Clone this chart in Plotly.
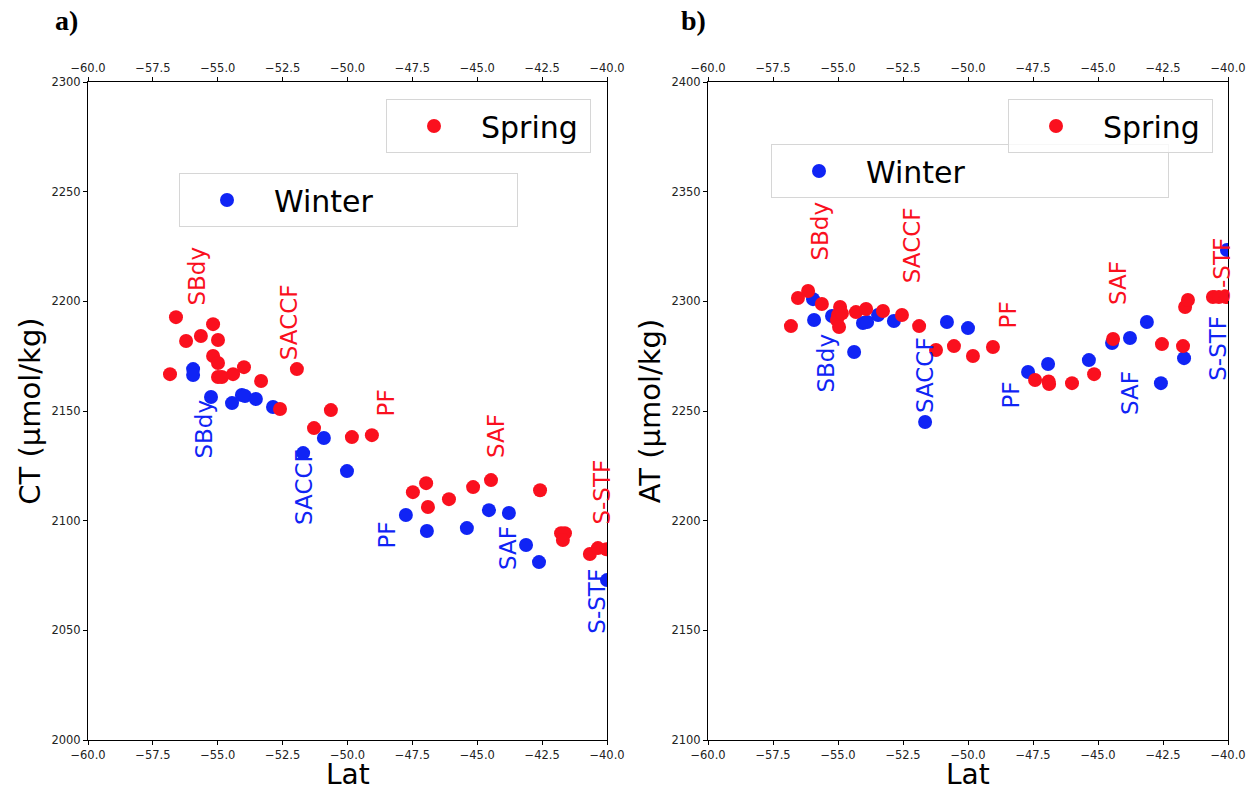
import plotly.graph_objects as go

RED = "rgb(250,16,30)"
BLUE = "rgb(16,36,245)"
FONT = "DejaVu Sans"

# ---------------- Panel a) CT ----------------
spring_ct_lat = [-56.61, -55.18, -55.65, -56.22, -54.99, -55.18, -54.99, -56.84, -54.99, -54.84,
                 -54.41, -53.99, -53.33, -51.95, -52.60, -50.64, -51.29, -49.83, -49.06,
                 -46.97, -47.48, -46.90, -46.09, -45.16, -44.47, -42.58, -41.77, -41.62, -41.70,
                 -40.66, -40.35, -40.02]
spring_ct = [2192.8, 2189.6, 2184.2, 2181.9, 2182.4, 2175.1, 2171.9, 2166.8, 2165.5, 2165.5,
             2166.8, 2170.0, 2163.7, 2169.1, 2150.9, 2150.4, 2142.2, 2138.1, 2139.0,
             2117.1, 2113.0, 2106.2, 2109.8, 2115.3, 2118.5, 2113.9, 2094.3, 2094.3, 2091.2,
             2084.8, 2087.5, 2087.0]

winter_ct_lat = [-55.95, -55.95, -55.26, -54.45, -54.07, -53.95, -53.53, -52.87, -50.91, -51.71,
                 -50.02, -47.75, -46.94, -45.40, -44.55, -43.78, -43.12, -42.62, -40.0]
winter_ct = [2169.1, 2166.4, 2156.4, 2153.6, 2157.3, 2156.8, 2155.5, 2151.8, 2137.7, 2130.8,
             2122.6, 2102.6, 2095.3, 2096.6, 2104.8, 2103.5, 2088.9, 2081.1, 2072.9]

# ---------------- Panel b) AT ----------------
spring_at_lat = [-56.81, -56.54, -56.15, -55.62, -54.92, -55.00, -55.04, -54.96, -54.85,
                 -54.31, -53.92, -53.27, -52.54, -51.88, -51.23, -50.54, -49.81, -49.04,
                 -47.42, -46.88, -46.90, -46.00, -45.15, -44.42, -42.54, -41.73, -41.65, -41.54,
                 -40.58, -40.35, -40.08]
spring_at = [2288.7, 2301.5, 2304.7, 2298.8, 2297.4, 2293.8, 2291.5, 2288.3, 2294.5,
             2295.1, 2296.5, 2295.6, 2293.8, 2288.7, 2277.8, 2279.6, 2275.1, 2279.2,
             2264.1, 2262.3, 2263.5, 2262.7, 2266.8, 2282.8, 2280.5, 2279.6, 2297.4, 2300.6,
             2302.0, 2302.0, 2302.0]

winter_at_lat = [-55.96, -55.92, -55.23, -54.04, -53.88, -53.46, -52.85, -54.38, -51.65, -50.81,
                 -50.00, -47.69, -46.92, -45.35, -44.46, -43.77, -43.12, -42.58, -41.69, -40.04]
winter_at = [2301.0, 2291.5, 2293.3, 2290.1, 2290.6, 2293.8, 2291.0, 2276.9, 2245.0, 2290.6,
             2287.8, 2267.8, 2271.4, 2273.2, 2281.0, 2283.3, 2290.6, 2262.7, 2274.1, 2323.4]

# Front labels (name, lat, value at the bottom of the rotated text)
fronts = ["SBdy", "SACCF", "PF", "SAF", "S-STF"]
ct_spring_lab_lat = [-55.80, -52.25, -48.52, -44.28, -40.23]
ct_spring_lab_val = [2197.4, 2172.3, 2146.8, 2127.6, 2097.1]
ct_winter_lab_lat = [-55.53, -51.68, -48.48, -43.81, -40.42]
ct_winter_lab_val = [2127.2, 2097.1, 2086.6, 2076.6, 2047.4]
at_spring_lab_lat = [-55.69, -52.15, -48.46, -44.23, -40.23]
at_spring_lab_val = [2317.5, 2307.4, 2286.5, 2297.4, 2298.3]
at_winter_lab_lat = [-55.46, -51.65, -48.38, -43.77, -40.38]
at_winter_lab_val = [2257.3, 2248.2, 2250.0, 2247.2, 2262.7]

MS = 14
fig = go.Figure()

fig.add_trace(go.Scatter(x=winter_ct_lat, y=winter_ct, mode="markers", name="Winter",
                         marker=dict(color=BLUE, size=MS), xaxis="x", yaxis="y", legend="legend2"))
fig.add_trace(go.Scatter(x=spring_ct_lat, y=spring_ct, mode="markers", name="Spring",
                         marker=dict(color=RED, size=MS), xaxis="x", yaxis="y", legend="legend"))
fig.add_trace(go.Scatter(x=winter_at_lat, y=winter_at, mode="markers", name="Winter",
                         marker=dict(color=BLUE, size=MS), xaxis="x2", yaxis="y2", legend="legend4"))
fig.add_trace(go.Scatter(x=spring_at_lat, y=spring_at, mode="markers", name="Spring",
                         marker=dict(color=RED, size=MS), xaxis="x2", yaxis="y2", legend="legend3"))
# invisible traces to activate top (twin) axes
fig.add_trace(go.Scatter(x=spring_ct_lat, y=spring_ct, mode="markers", marker=dict(opacity=0),
                         xaxis="x3", yaxis="y", showlegend=False, hoverinfo="skip"))
fig.add_trace(go.Scatter(x=spring_at_lat, y=spring_at, mode="markers", marker=dict(opacity=0),
                         xaxis="x4", yaxis="y2", showlegend=False, hoverinfo="skip"))

ann = []
def add_labels(lats, vals, color, xr, yr):
    for name, la, v in zip(fronts, lats, vals):
        ann.append(dict(x=la, y=v, xref=xr, yref=yr, text=name, showarrow=False, textangle=-90,
                        xanchor="center", yanchor="bottom",
                        font=dict(family=FONT, size=23, color=color)))

add_labels(ct_spring_lab_lat, ct_spring_lab_val, RED, "x", "y")
add_labels(ct_winter_lab_lat, ct_winter_lab_val, BLUE, "x", "y")
add_labels(at_spring_lab_lat, at_spring_lab_val, RED, "x2", "y2")
add_labels(at_winter_lab_lat, at_winter_lab_val, BLUE, "x2", "y2")

ann.append(dict(x=-0.031, y=(740 - 21) / 658, xref="paper", yref="paper", text="<b>a)</b>", showarrow=False,
                xanchor="left", yanchor="middle", font=dict(family="Liberation Serif", size=28, color="black")))
ann.append(dict(x=0.5185, y=(740 - 21) / 658, xref="paper", yref="paper", text="<b>b)</b>", showarrow=False,
                xanchor="left", yanchor="middle", font=dict(family="Liberation Serif", size=28, color="black")))

# x-axis titles ("Lat") placed below the tick labels of each panel
for xref in ("x domain", "x2 domain"):
    ann.append(dict(x=0.5, y=-(792 - 740) / 658, xref=xref, yref="paper", text="Lat", showarrow=False,
                    xanchor="center", yanchor="bottom", borderpad=0,
                    font=dict(family=FONT, size=28, color="black")))

tickfont = dict(family=FONT, size=11.5, color="#222")
xcommon = dict(range=[-60, -40], dtick=2.5, tick0=-60, tickformat=".1f", ticks="outside", ticklen=4,
               tickcolor="black", showgrid=False, zeroline=False, showline=True, linecolor="black",
               linewidth=1, tickfont=tickfont, automargin=False)
ycommon = dict(dtick=50, ticks="outside", ticklen=4, tickcolor="black", showgrid=False, zeroline=False,
               showline=True, linecolor="black", linewidth=1, mirror=True, tickfont=tickfont,
               automargin=False)

xl = (607 - 88) / 1140
xr0 = (708 - 88) / 1140

fig.update_layout(
    width=1253, height=792,
    margin=dict(l=88, r=25, t=82, b=52),
    paper_bgcolor="white", plot_bgcolor="white",
    font=dict(family=FONT),
    xaxis=dict(domain=[0, xl], anchor="y", mirror=True, **xcommon),
    yaxis=dict(domain=[0, 1], anchor="x", range=[2000, 2300],
               title=dict(text="CT (μmol/kg)", font=dict(family=FONT, size=29, color="black"), standoff=2), **ycommon),
    xaxis3=dict(overlaying="x", side="top", anchor="y", **xcommon),
    xaxis2=dict(domain=[xr0, 1], anchor="y2", mirror=True, **xcommon),
    yaxis2=dict(domain=[0, 1], anchor="x2", range=[2100, 2400],
                title=dict(text="AT (μmol/kg)", font=dict(family=FONT, size=29, color="black"), standoff=2), **ycommon),
    xaxis4=dict(overlaying="x2", side="top", anchor="y2", **xcommon),
    annotations=ann,
    showlegend=True,
)

legfont = dict(family=FONT, size=30, color="black")
legcommon = dict(xanchor="left", yanchor="top", orientation="h", font=legfont, bordercolor="#d6d6d6",
                 borderwidth=1, bgcolor="rgba(255,255,255,0.8)", itemwidth=84, entrywidthmode="pixels")
fig.update_layout(
    legend=dict(x=(386 - 88) / 1140, y=(740 - 99) / 658, entrywidth=104, **legcommon),
    legend2=dict(x=(179 - 88) / 1140, y=(740 - 173) / 658, entrywidth=238, **legcommon),
    legend3=dict(x=(1008 - 88) / 1140, y=(740 - 99) / 658, entrywidth=104, **legcommon),
    legend4=dict(x=(771 - 88) / 1140, y=(740 - 144) / 658, entrywidth=297, **legcommon),
)

fig.write_html("out.html")
